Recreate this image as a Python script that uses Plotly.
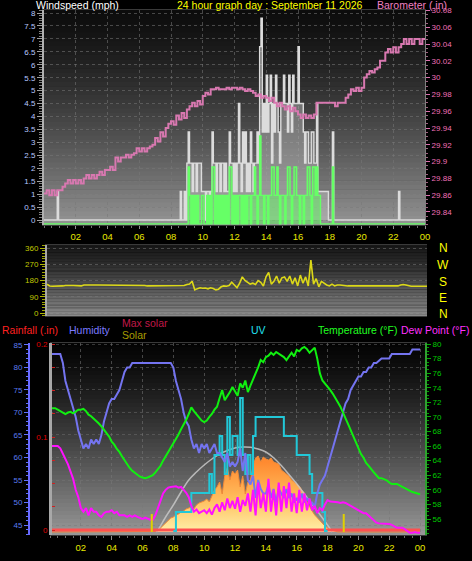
import plotly.graph_objects as go

FIG_W, FIG_H = 472, 561
FONT = "Liberation Sans"

# ---------------- data ----------------
hour_ticks = [2, 4, 6, 8, 10, 12, 14, 16, 18, 20, 22, 24]
hour_labels = ['02', '04', '06', '08', '10', '12', '14', '16', '18', '20', '22', '00']

# wind gust (mph), 5-minute samples 00:00 -> 24:00 (one row per hour)
wind_gust = [
    0, 0, 0, 0, 0, 0, 0, 0, 0, 0, 1.1, 0,
    0, 0, 0, 0, 0, 0, 0, 0, 0, 0, 0, 0,
    0, 0, 0, 0, 0, 0, 0, 0, 0, 0, 0, 0,
    0, 0, 0, 0, 0, 0, 0, 0, 0, 0, 0, 0,
    0, 0, 0, 0, 0, 0, 0, 0, 0, 0, 0, 0,
    0, 0, 0, 0, 0, 0, 0, 0, 0, 0, 0, 0,
    0, 0, 0, 0, 0, 0, 0, 0, 0, 0, 0, 0,
    0, 0, 0, 0, 0, 0, 0, 0, 0, 0, 0, 0,
    0, 0, 0, 0, 0, 0, 0, 1.1, 0, 0, 1.1, 0,
    2.2, 3.4, 2.2, 2.2, 1.1, 2.2, 2.2, 1.1, 2.2, 2.2, 2.2, 1.1,
    1.1, 1.1, 0, 1.1, 1.1, 0, 1.1, 3.4, 2.2, 2.2, 1.1, 2.2,
    2.2, 1.1, 2.2, 2.2, 1.1, 2.2, 1.1, 1.1, 3.4, 2.2, 2.2, 1.1,
    2.2, 1.1, 2.2, 4.5, 2.2, 1.1, 3.4, 2.2, 3.4, 1.1, 2.2, 1.1,
    3.4, 2.2, 1.1, 2.2, 2.2, 3.4, 2.2, 6.7, 7.8, 3.4, 4.5, 3.4,
    5.6, 3.4, 4.5, 5.6, 2.2, 4.5, 3.4, 5.6, 4.5, 3.4, 2.2, 4.5,
    4.5, 5.6, 4.5, 4.5, 3.4, 5.6, 4.5, 3.4, 5.6, 4.5, 4.5, 4.5,
    6.7, 4.5, 4.5, 4.5, 3.4, 2.2, 3.4, 3.4, 2.2, 2.2, 3.4, 3.4,
    2.2, 2.2, 4.5, 1.1, 1.1, 1.1, 1.1, 1.1, 1.1, 1.1, 1.1, 0,
    0, 0, 3.4, 0, 0, 0, 0, 0, 0, 0, 0, 0,
    0, 0, 0, 0, 0, 0, 0, 0, 0, 0, 0, 0,
    0, 0, 0, 0, 0, 0, 0, 0, 0, 0, 0, 0,
    0, 0, 0, 0, 0, 0, 0, 0, 0, 0, 0, 0,
    0, 0, 0, 0, 1.1, 0, 0, 0, 0, 0, 0, 0,
    0, 0, 0, 0, 0, 0, 0, 0, 0, 0, 0, 0,
    0,
]

# average wind speed (mph), 5-minute samples
wind_avg = [
    0, 0, 0, 0, 0, 0, 0, 0, 0, 0, 0, 0,
    0, 0, 0, 0, 0, 0, 0, 0, 0, 0, 0, 0,
    0, 0, 0, 0, 0, 0, 0, 0, 0, 0, 0, 0,
    0, 0, 0, 0, 0, 0, 0, 0, 0, 0, 0, 0,
    0, 0, 0, 0, 0, 0, 0, 0, 0, 0, 0, 0,
    0, 0, 0, 0, 0, 0, 0, 0, 0, 0, 0, 0,
    0, 0, 0, 0, 0, 0, 0, 0, 0, 0, 0, 0,
    0, 0, 0, 0, 0, 0, 0, 0, 0, 0, 0, 0,
    0, 0, 0, 0, 0, 0, 0, 0, 0, 0, 0, 0,
    0, 2.2, 1.1, 0, 1.1, 0, 1.1, 0, 1.1, 0, 0, 1.1,
    1.1, 0, 0, 1.1, 0, 1.1, 0, 2.2, 2.2, 0, 1.1, 0,
    1.1, 0, 1.1, 0, 1.1, 0, 1.1, 0, 2.2, 2.2, 0, 1.1,
    0, 1.1, 0, 1.1, 1.1, 0, 1.1, 0, 1.1, 0, 1.1, 1.1,
    0, 1.1, 1.1, 2.2, 1.1, 0, 1.1, 3.4, 1.1, 1.1, 0, 1.1,
    1.1, 0, 1.1, 1.1, 2.2, 2.2, 1.1, 1.1, 2.2, 1.1, 0, 1.1,
    1.1, 1.1, 0, 1.1, 2.2, 2.2, 1.1, 0, 1.1, 2.2, 2.2, 1.1,
    1.1, 0, 1.1, 1.1, 0, 1.1, 1.1, 2.2, 2.2, 1.1, 0, 2.2,
    2.2, 1.1, 2.2, 1.1, 1.1, 0, 0, 0, 0, 0, 0, 0,
    0, 0, 2.2, 0, 0, 0, 0, 0, 0, 0, 0, 0,
    0, 0, 0, 0, 0, 0, 0, 0, 0, 0, 0, 0,
    0, 0, 0, 0, 0, 0, 0, 0, 0, 0, 0, 0,
    0, 0, 0, 0, 0, 0, 0, 0, 0, 0, 0, 0,
    0, 0, 0, 0, 0, 0, 0, 0, 0, 0, 0, 0,
    0, 0, 0, 0, 0, 0, 0, 0, 0, 0, 0, 0,
    0,
]

# barometer (in), 10-minute samples
baro_in = [
    29.862, 29.866, 29.860, 29.866, 29.860, 29.866,
    29.866, 29.870, 29.874, 29.878, 29.874, 29.878,
    29.874, 29.878, 29.874, 29.880, 29.884, 29.880,
    29.884, 29.880, 29.884, 29.888, 29.884, 29.890,
    29.890, 29.894, 29.890, 29.905, 29.900, 29.905,
    29.905, 29.908, 29.905, 29.908, 29.910, 29.916,
    29.912, 29.916, 29.912, 29.916, 29.918, 29.920,
    29.928, 29.924, 29.935, 29.930, 29.940, 29.945,
    29.948, 29.944, 29.955, 29.950, 29.958, 29.952,
    29.962, 29.966, 29.970, 29.966, 29.972, 29.968,
    29.978, 29.982, 29.980, 29.986, 29.986, 29.988,
    29.986, 29.986, 29.986, 29.988, 29.986, 29.988,
    29.988, 29.986, 29.988, 29.986, 29.984, 29.986,
    29.984, 29.982, 29.978, 29.980, 29.976, 29.978,
    29.976, 29.972, 29.976, 29.970, 29.966, 29.970,
    29.966, 29.962, 29.966, 29.960, 29.964, 29.960,
    29.956, 29.952, 29.956, 29.952, 29.955, 29.952,
    29.956, 29.970, 29.970, 29.970, 29.970, 29.970,
    29.970, 29.970, 29.966, 29.970, 29.970, 29.970,
    29.976, 29.980, 29.986, 29.984, 29.988, 29.984,
    29.988, 30.000, 30.004, 30.008, 30.006, 30.010,
    30.012, 30.020, 30.020, 30.030, 30.034, 30.030,
    30.036, 30.030, 30.036, 30.040, 30.046, 30.040,
    30.046, 30.040, 30.046, 30.046, 30.040, 30.046,
    30.046,
]

# wind direction (degrees), 10-minute samples
wind_dir = [
    159, 150, 148, 148, 146, 148,
    150, 152, 150, 152, 152, 150,
    152, 150, 155, 154, 155, 155,
    155, 155, 155, 155, 155, 155,
    155, 155, 155, 155, 155, 155,
    155, 155, 155, 155, 155, 155,
    155, 152, 150, 150, 150, 150,
    150, 150, 150, 150, 150, 150,
    150, 150, 150, 150, 152, 158,
    160, 176, 128, 135, 140, 137,
    138, 134, 140, 136, 128, 132,
    145, 150, 148, 152, 170, 155,
    140, 165, 200, 180, 170, 160,
    165, 158, 180, 170, 150, 200,
    225, 160, 175, 205, 165, 195,
    200, 175, 205, 160, 195, 150,
    210, 165, 200, 150, 293, 160,
    190, 145, 175, 165, 155, 150,
    160, 150, 155, 155, 152, 150,
    150, 150, 150, 150, 150, 150,
    150, 150, 150, 150, 150, 146,
    146, 146, 146, 146, 146, 146,
    146, 150, 155, 158, 155, 150,
    148, 148, 148, 148, 148, 148,
    148,
]

# humidity (%), 10-minute samples
humidity = [
    83, 83, 83, 83, 83, 81,
    77, 75, 73, 71, 69, 66,
    64, 62, 63, 62, 64, 63,
    64, 63, 65, 68, 70, 72,
    73, 73, 74, 75, 77, 79,
    80, 80, 81, 81, 81, 81,
    81, 81, 81, 81, 81, 81,
    81, 81, 81, 81, 81, 81,
    80, 77, 75, 73, 70, 68,
    67, 64, 62, 63, 61, 63,
    62, 63, 61, 62, 63, 61,
    61, 60, 59, 61, 58, 59,
    58, 59, 62, 57, 61, 55,
    54, 56, 51, 55, 53, 52,
    52, 54, 51, 53, 50, 53,
    52, 51, 53, 51, 52, 50,
    51, 50, 52, 50, 51, 50,
    50, 49, 52, 54, 55, 56,
    58, 60, 62, 64, 66, 68,
    70, 72, 73, 75, 76, 77,
    78, 78, 79, 79, 80, 80,
    81, 81, 81.5, 82, 82, 82,
    82, 83, 83, 83, 83, 83,
    83, 83, 83, 84, 84, 84,
    84,
]

# temperature (F), 10-minute samples
temperature = [
    71.2, 71.2, 71.2, 71.0, 70.8, 70.5,
    70.4, 70.6, 70.7, 70.5, 70.8, 71.0,
    71.0, 71.1, 70.8, 70.3, 70.1, 69.8,
    69.5, 69.1, 68.7, 68.2, 67.8, 67.3,
    66.6, 66.2, 65.6, 65.2, 64.6, 64.0,
    63.5, 63.0, 62.6, 62.3, 62.0, 61.8,
    61.7, 61.6, 61.7, 61.8, 62.0, 62.4,
    62.9, 63.3, 64.0, 64.6, 65.2, 65.6,
    66.2, 66.8, 67.6, 68.3, 68.9, 69.6,
    70.4, 71.3, 70.8, 70.4, 69.9, 69.5,
    69.3, 69.5, 70.0, 70.4, 71.0, 71.4,
    72.6, 73.7, 72.3, 72.8, 73.4, 74.1,
    73.5, 72.9, 74.6, 74.0, 75.0, 73.4,
    74.3, 75.1, 76.0, 76.8, 77.8, 77.5,
    78.2, 78.4, 78.8, 78.5, 78.9, 78.7,
    78.5, 78.2, 77.8, 78.4, 78.8, 78.3,
    79.2, 79.0, 79.4, 79.6, 79.3, 78.8,
    79.1, 79.5, 78.0, 76.0, 75.0, 74.6,
    74.2, 73.7, 73.2, 72.5, 72.0, 71.4,
    70.5, 69.8, 69.0, 68.2, 67.4, 66.5,
    65.9, 64.9, 64.4, 63.7, 63.3, 62.8,
    62.4, 62.0, 61.6, 61.6, 61.5, 61.3,
    61.0, 60.8, 60.8, 60.8, 60.6, 60.4,
    60.2, 60.0, 59.8, 59.7, 59.6, 59.5,
    59.4,
]

# dew point (F), 10-minute samples
dew_point = [
    66.0, 66.0, 66.0, 66.0, 65.7, 65.0,
    64.1, 63.5, 62.5, 61.5, 60.0, 59.0,
    57.5, 57.0, 57.5, 56.5, 57.5, 57.0,
    57.0, 56.5, 56.3, 56.8, 57.0, 57.0,
    57.2, 56.8, 57.0, 56.5, 56.5, 56.5,
    56.3, 56.5, 56.3, 56.5, 56.3, 56.2,
    56.0, 56.2, 56.0, 55.9, 55.9, 56.5,
    57.5, 58.5, 59.5, 60.0, 60.3, 60.4,
    60.4, 60.5, 60.3, 60.4, 60.0, 59.6,
    59.0, 57.8, 57.0, 57.3, 56.8, 57.0,
    57.2, 56.8, 57.3, 56.6, 57.5, 58.0,
    57.0, 58.3, 57.2, 58.8, 57.5, 58.5,
    57.4, 59.0, 57.0, 58.6, 57.8, 59.5,
    57.0, 60.0, 56.5, 61.0, 57.5, 59.5,
    57.0, 61.5, 57.0, 60.0, 56.5, 61.0,
    57.0, 60.5, 57.5, 61.0, 57.0, 59.5,
    56.8, 60.0, 57.0, 59.5, 57.2, 58.8,
    57.2, 57.8, 56.8, 57.5, 57.2, 58.0,
    58.6, 58.4, 58.4, 58.3, 58.3, 58.2,
    58.3, 58.2, 58.0, 57.8, 57.6, 57.5,
    57.3, 57.0, 56.8, 56.8, 56.5, 56.2,
    55.8, 55.5, 55.4, 55.4, 55.4, 55.4,
    55.3, 55.2, 55.0, 54.8, 54.8, 54.8,
    54.6, 54.4, 54.1, 54.1, 54.2, 54.1,
    54.1,
]

# solar radiation (W/m2), 10-minute samples
solar = [
    0, 0, 0, 0, 0, 0,
    0, 0, 0, 0, 0, 0,
    0, 0, 0, 0, 0, 0,
    0, 0, 0, 0, 0, 0,
    0, 0, 0, 0, 0, 0,
    0, 0, 0, 0, 0, 0,
    0, 0, 0, 0, 0, 5,
    15, 40, 70, 100, 120, 140,
    150, 170, 180, 200, 210, 230,
    240, 250, 230, 270, 290, 300,
    310, 330, 300, 360, 420, 450,
    500, 380, 560, 640, 520, 610,
    580, 620, 450, 560, 380, 500,
    520, 660, 740, 760, 700, 750,
    730, 720, 740, 700, 690, 680,
    620, 600, 580, 560, 520, 500,
    480, 460, 420, 390, 300, 250,
    210, 170, 140, 110, 80, 60,
    40, 25, 15, 8, 0, 0,
    0, 0, 0, 0, 0, 0,
    0, 0, 0, 0, 0, 0,
    0, 0, 0, 0, 0, 0,
    0, 0, 0, 0, 0, 0,
    0, 0, 0, 0, 0, 0,
    0,
]

# theoretical max solar (W/m2)
max_solar_t = [6.9, 7.0, 7.5, 8.0, 8.5, 9.0, 9.5, 10.0, 10.5, 11.0, 11.5, 12.0,
               12.5, 13.0, 13.5, 14.0, 14.5, 15.0, 15.5, 16.0, 16.5, 17.0, 17.5, 18.0, 18.3]
max_solar = [0, 20, 150, 270, 400, 520, 600, 670, 730, 780, 815, 840,
             850, 847, 830, 800, 742, 665, 575, 483, 380, 275, 175, 70, 0]

# UV index, 10-minute samples from 08:00
uv_start_hour = 8
uv_index = [
    0, 1, 1, 1, 1, 1,
    1, 2, 2, 2, 2, 2,
    2, 2, 3, 2, 4, 4,
    5, 4, 3, 6, 4, 5,
    5, 4, 7, 4, 3, 4,
    3, 5, 6, 6, 6, 6,
    6, 6, 6, 6, 6, 6,
    6, 5, 5, 5, 5, 5,
    4, 4, 4, 4, 4, 3,
    2, 2, 2, 2, 1, 0,
    0,
]

# rainfall (in)
rain_t = [0, 6, 12, 18, 24]
rain_in = [0, 0, 0, 0, 0]

# sunrise / sunset markers (hours)
sun_events = [6.6, 19.05]

t5 = [i / 12 for i in range(len(wind_gust))]
t5b = [i / 12 for i in range(len(wind_avg))]
t10 = [i / 6 for i in range(len(baro_in))]
t_dir = [i / 6 for i in range(len(wind_dir))]
t_hum = [i / 6 for i in range(len(humidity))]
t_tmp = [i / 6 for i in range(len(temperature))]
t_dew = [i / 6 for i in range(len(dew_point))]
t_sol = [i / 6 for i in range(len(solar))]
t_uv = [uv_start_hour + i / 6 for i in range(len(uv_index))]


# ---------------- helpers ----------------
def px_x(p):
    return p / FIG_W


def px_y(p):
    return 1 - p / FIG_H


def gradient(xref, yref, top_rgb, bot_rgb, n=48, gamma=1.3):
    out = []
    for i in range(n):
        f = ((i + 0.5) / n) ** gamma
        c = tuple(int(round(top_rgb[k] + (bot_rgb[k] - top_rgb[k]) * f)) for k in range(3))
        out.append(dict(type='rect', xref=xref, yref=yref, x0=0, x1=1,
                        y0=max(0, 1 - (i + 1) / n - 0.003), y1=1 - i / n,
                        fillcolor='rgb(%d,%d,%d)' % c, line=dict(width=0), layer='below'))
    return out


fig = go.Figure()

# ---------------- top chart ----------------
fig.add_trace(go.Scatter(x=t5, y=wind_gust, mode='lines', line=dict(shape='hv', color='#dcdcdc', width=1.4),
                         fill='tozeroy', fillcolor='rgba(215,215,215,0.35)', xaxis='x', yaxis='y'))
fig.add_trace(go.Scatter(x=t10, y=baro_in, mode='lines', line=dict(shape='hv', color='#d878b0', width=2),
                         xaxis='x', yaxis='y2'))
fig.add_trace(go.Scatter(x=t5b, y=wind_avg, mode='lines', line=dict(shape='hv', color='#66ff66', width=1.4),
                         fill='tozeroy', fillcolor='rgba(90,255,90,0.45)', xaxis='x', yaxis='y3'))

# ---------------- middle chart ----------------
fig.add_trace(go.Scatter(x=t_dir, y=wind_dir, mode='lines', line=dict(color='#dcd818', width=1.6),
                         xaxis='x2', yaxis='y4'))

# ---------------- bottom chart ----------------
fig.add_trace(go.Scatter(x=t_sol, y=solar, mode='lines', line=dict(color='#f08a38', width=1),
                         fill='tozeroy',
                         fillgradient=dict(type='vertical', start=0, stop=700,
                                           colorscale=[[0, '#fff0a8'], [0.45, '#ffc060'], [1, '#ff8a30']]),
                         xaxis='x3', yaxis='y5'))
fig.add_trace(go.Scatter(x=max_solar_t, y=max_solar, mode='lines',
                         line=dict(color='rgba(200,200,200,0.85)', width=1.5, shape='spline'),
                         xaxis='x3', yaxis='y5'))
fig.add_trace(go.Scatter(x=rain_t, y=rain_in, mode='lines', line=dict(color='#ff5050', width=3),
                         xaxis='x3', yaxis='y6'))
fig.add_trace(go.Scatter(x=t_uv, y=uv_index, mode='lines', line=dict(shape='hv', color='#22c8d8', width=2),
                         xaxis='x3', yaxis='y7'))
fig.add_trace(go.Scatter(x=t_hum, y=humidity, mode='lines', line=dict(color='#7474f0', width=2),
                         xaxis='x3', yaxis='y8'))
fig.add_trace(go.Scatter(x=t_dew, y=dew_point, mode='lines', line=dict(color='#ff10ff', width=2),
                         xaxis='x3', yaxis='y9'))
fig.add_trace(go.Scatter(x=t_tmp, y=temperature, mode='lines', line=dict(color='#10f010', width=2),
                         xaxis='x3', yaxis='y9'))

grid = dict(showgrid=True, gridcolor='rgba(120,120,120,0.55)', griddash='dot', gridwidth=1)
nogrid = dict(showgrid=False, zeroline=False)

WIND_RANGE = [-0.193, 8.116]

layout = dict(
    template='none',
    width=FIG_W, height=FIG_H, margin=dict(l=0, r=0, t=0, b=0, pad=0, autoexpand=False),
    paper_bgcolor='black', plot_bgcolor='black', showlegend=False,
    font=dict(family=FONT, color='white'),
    # top
    xaxis=dict(domain=[px_x(44), px_x(425)], range=[0, 24], anchor='y', automargin=False,
               tickvals=hour_ticks, ticktext=hour_labels, ticks='outside', ticklen=3,
               tickcolor='#909090', tickfont=dict(family=FONT, size=9.5, color='#e8e800'),
               minor=dict(ticks='outside', ticklen=2, dtick=0.5, tickcolor='#707070', showgrid=False),
               showline=True, linecolor='#3a3a3a', mirror=True, zeroline=False, **grid),
    yaxis=dict(domain=[px_y(225), px_y(10)], range=WIND_RANGE, anchor='x', automargin=False,
               tickvals=[0, 0.5, 1, 1.5, 2, 2.5, 3, 3.5, 4, 4.5, 5, 5.5, 6, 6.5, 7, 7.5, 8],
               ticktext=['0', '0.5', '1', '1.5', '2', '2.5', '3', '3.5', '4', '4.5', '5', '5.5', '6',
                         '6.5', '7', '7.5', '8'],
               ticks='outside', ticklen=5, tickcolor='#a0a0a0',
               tickfont=dict(family=FONT, size=8, color='#b8c8ff'),
               minor=dict(ticks='outside', ticklen=3, dtick=0.1, tickcolor='#808080', showgrid=False),
               showline=True, linecolor='#b0b0b0', linewidth=2, zeroline=False, **grid),
    yaxis2=dict(overlaying='y', side='right', anchor='x', range=[29.8245, 30.0805], automargin=False,
                tickvals=[29.84, 29.86, 29.88, 29.90, 29.92, 29.94, 29.96, 29.98, 30.00, 30.02, 30.04,
                          30.06, 30.08],
                ticktext=['29.84', '29.86', '29.88', '29.9', '29.92', '29.94', '29.96', '29.98', '30',
                          '30.02', '30.04', '30.06', '30.08'],
                ticks='outside', ticklen=4, tickcolor='#e070b0',
                tickfont=dict(family=FONT, size=8, color='#f070b8'),
                minor=dict(ticks='outside', ticklen=2, dtick=0.005, tickcolor='#a06080', showgrid=False),
                showline=True, linecolor='#808080', **nogrid),
    yaxis3=dict(overlaying='y', anchor='x', range=[WIND_RANGE[0] + 0.15, WIND_RANGE[1] + 0.15],
                visible=False, automargin=False, **nogrid),
    # middle
    xaxis2=dict(domain=[px_x(47), px_x(427)], range=[0, 24], anchor='y4', showticklabels=False,
                automargin=False,
                ticks='', showline=True, linecolor='#3a3a3a', mirror=True, showgrid=False, zeroline=False),
    yaxis4=dict(domain=[px_y(316), px_y(245)], range=[-16.6, 376.6], anchor='x2', automargin=False,
                tickvals=[0, 90, 180, 270, 360], ticks='outside', ticklen=5, tickcolor='#b0b800',
                tickfont=dict(family=FONT, size=8, color='#c0c800'),
                minor=dict(ticks='outside', ticklen=3, dtick=15, tickcolor='#a0a800', showgrid=False),
                showline=True, linecolor='#a8a8a8', linewidth=2, zeroline=False, **grid),
    # bottom
    xaxis3=dict(domain=[px_x(50), px_x(425)], range=[0, 24.32], anchor='y5', automargin=False,
                tickvals=hour_ticks, ticktext=hour_labels, ticks='outside', ticklen=4,
                tickcolor='#909090', tickfont=dict(family=FONT, size=9.5, color='#e8e800'),
                minor=dict(ticks='outside', ticklen=2, dtick=0.5, tickcolor='#707070', showgrid=False),
                showline=True, linecolor='#3a3a3a', mirror=True, zeroline=False, **grid),
    yaxis5=dict(domain=[px_y(535), px_y(343)], range=[-30, 1890], anchor='x3', visible=False,
                automargin=False, showgrid=False, zeroline=False),
    yaxis6=dict(overlaying='y5', anchor='free', position=px_x(50), side='left', range=[-0.00538, 0.2011],
                automargin=False,
                tickvals=[0, 0.025, 0.05, 0.075, 0.1, 0.125, 0.15, 0.175, 0.2],
                ticktext=['0', '', '', '', '0.1', '', '', '', '0.2'],
                ticks='inside', ticklen=3, tickcolor='#d02020',
                tickfont=dict(family=FONT, size=8, color='#e00000'),
                showline=True, linecolor='#a8a8a8', linewidth=3, **nogrid),
    yaxis7=dict(overlaying='y5', anchor='x3', range=[-0.21, 9.895], visible=False, automargin=False,
                **nogrid),
    yaxis8=dict(overlaying='y5', anchor='free', position=px_x(29), side='left', range=[42.78, 85.44],
                automargin=False,
                tickvals=[45, 50, 55, 60, 65, 70, 75, 80, 85], ticks='outside', ticklen=4,
                tickcolor='#6070ff', tickfont=dict(family=FONT, size=8, color='#5c7cf0'),
                minor=dict(ticks='outside', ticklen=2, dtick=1, tickcolor='#6070ff', showgrid=False),
                showline=True, linecolor='#6a6aff', linewidth=2, zeroline=False,
                showgrid=True, gridcolor='rgba(120,120,120,0.45)', griddash='dot'),
    yaxis9=dict(overlaying='y5', anchor='x3', side='right', range=[53.806, 80.137], automargin=False,
                tickvals=[56, 58, 60, 62, 64, 66, 68, 70, 72, 74, 76, 78, 80], ticks='outside', ticklen=4,
                tickcolor='#00b000', tickfont=dict(family=FONT, size=8, color='#00c800'),
                minor=dict(ticks='outside', ticklen=2, dtick=0.5, tickcolor='#00a000', showgrid=False),
                showline=True, linecolor='#30a030', linewidth=2, **nogrid),
)
fig.update_layout(**layout)

shapes = []
shapes += gradient('x domain', 'y domain', (12, 12, 12), (148, 148, 148))
shapes += gradient('x2 domain', 'y4 domain', (24, 24, 24), (140, 140, 140))
shapes += gradient('x3 domain', 'y5 domain', (4, 4, 4), (152, 152, 152))
for s in sun_events:
    shapes.append(dict(type='line', xref='x3', yref='y5', x0=s, x1=s, y0=0, y1=180,
                       line=dict(color='#e0d000', width=2), layer='above'))
fig.update_layout(shapes=shapes)


def ann(text, xp, yp, color, size=10.5, anchor='left'):
    return dict(text=text, x=px_x(xp), y=px_y(yp), xref='paper', yref='paper', showarrow=False,
                xanchor=anchor, yanchor='middle', font=dict(family=FONT, size=size, color=color))


annotations = [
    ann('Windspeed (mph)', 34, 5.5, '#ffffff'),
    ann('24 hour graph day : September 11 2026', 175, 5.5, '#ffff00'),
    ann('Barometer (.in)', 375, 4.5, '#f080c0'),
    ann('N', 443, 248, '#ffff00', 12, 'center'),
    ann('W', 443, 265, '#ffff00', 12, 'center'),
    ann('S', 443, 282, '#ffff00', 12, 'center'),
    ann('E', 443, 298, '#ffff00', 12, 'center'),
    ann('N', 443, 314, '#ffff00', 12, 'center'),
    ann('Rainfall (.in)', 0, 330, '#ff2020'),
    ann('Humidity', 67, 330, '#7a7aff'),
    ann('Max solar', 120, 323, '#c01848'),
    ann('Solar', 120, 335, '#a89c00'),
    ann('UV', 249, 330, '#20e0f0'),
    ann('Temperature (°F)', 316, 330, '#20ff20'),
    ann('Dew Point (°F)', 399, 330, '#ff30ff'),
]
fig.update_layout(annotations=annotations)

fig.write_html("out.html", config={'displayModeBar': False},
               post_script="document.body.style.margin='0';document.body.style.overflow='hidden';"
                           "document.body.style.background='black';")
